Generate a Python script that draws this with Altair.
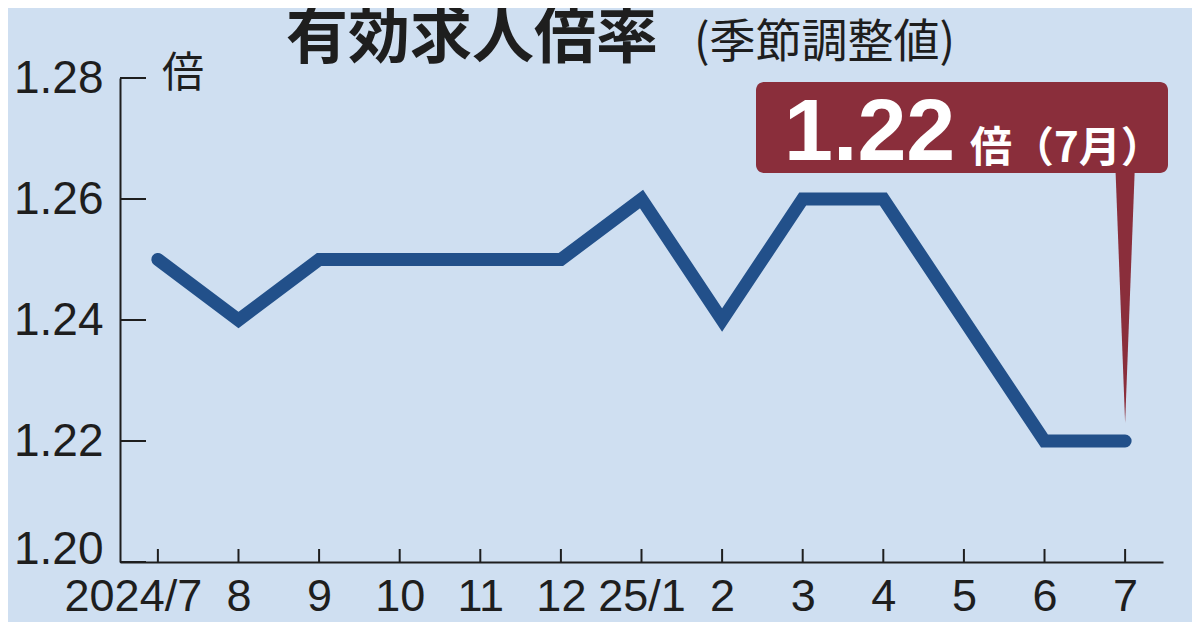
import json
import altair as alt
import pandas as pd

months = ["2024/7", "8", "9", "10", "11", "12", "25/1", "2", "3", "4", "5", "6", "7"]
values = [1.25, 1.24, 1.25, 1.25, 1.25, 1.25, 1.26, 1.24, 1.26, 1.26, 1.24, 1.22, 1.22]
y_ticks = [1.20, 1.22, 1.24, 1.26, 1.28]

title_main = "有効求人倍率"
title_sub = "(季節調整値)"
unit_label = "倍"
callout_value = "1.22"
callout_suffix = "倍（7月）"

BG = "#cfdff1"
LINE = "#22508a"
BOX = "#8a2e3b"
INK = "#1e1e1e"
NUM_FONT = "Liberation Sans Narrow, Liberation Sans, Arial, sans-serif"
JP_FONT = "Noto Sans CJK JP"

W, H = 1043, 484

idx = list(range(len(months)))
df = pd.DataFrame({"i": idx, "month": months, "value": values})
df_ticks = pd.DataFrame({"value": y_ticks})
df_last = df.iloc[[-1]]
one = pd.DataFrame({"k": [0]})

label_expr = json.dumps(months) + "[datum.value]"

xscale = alt.Scale(domain=[-0.47, len(months) - 1 + 0.47], nice=False, zero=False)
yscale = alt.Scale(domain=[1.20, 1.28], nice=False, zero=False)

xaxis = alt.Axis(
    title=None, ticks=False, grid=False, domain=True, labelAngle=0,
    values=idx, labelExpr=label_expr, labelFlush=False, labelOverlap=False,
    labelPadding=12, labelFontSize=45, labelFont=NUM_FONT, labelColor=INK,
    labelOffset={"condition": {"test": "datum.value === 0", "value": -25}, "value": 0},
)
yaxis = alt.Axis(
    title=None, ticks=False, grid=False, domain=True, values=y_ticks, format=".2f",
    labelPadding=17, labelFontSize=46, labelFont=NUM_FONT, labelColor=INK,
    labelFlush=False, labelOverlap=False,
    labelOffset={"condition": {"test": "datum.value < 1.205", "value": -13}, "value": 0},
)

X = alt.X("i:Q", scale=xscale, axis=xaxis)
Y = alt.Y("value:Q", scale=yscale, axis=yaxis)

line = alt.Chart(df).mark_line(
    color=LINE, strokeWidth=13, strokeCap="round", strokeJoin="miter"
).encode(x=X, y=Y)

ytick_marks = alt.Chart(df_ticks).mark_rule(color=INK, strokeWidth=2).encode(
    y=Y, x=alt.value(0), x2=alt.value(26)
)
xtick_marks = alt.Chart(df).mark_rule(color=INK, strokeWidth=2).encode(
    x=X, y=alt.value(H - 13), y2=alt.value(H)
)

box = alt.Chart(one).mark_rect(color=BOX, cornerRadius=8).encode(
    x=alt.value(636), x2=alt.value(1048), y=alt.value(4), y2=alt.value(95)
)
pointer = alt.Chart(df_last).mark_point(
    shape="M -0.076 -1 L 0.076 -1 L 0 1 Z", filled=True, color=BOX, opacity=1,
    size=62500, strokeWidth=0
).encode(x=X, y=alt.value(220))

t_main = alt.Chart(one).mark_text(
    font=JP_FONT, fontSize=62, fontWeight="bold", color=INK, align="left", baseline="middle"
).encode(x=alt.value(166), y=alt.value(-39), text=alt.value(title_main))
t_sub = alt.Chart(one).mark_text(
    font=JP_FONT, fontSize=46, color=INK, align="left", baseline="middle"
).encode(x=alt.value(574), y=alt.value(-35), text=alt.value(title_sub))
t_unit = alt.Chart(one).mark_text(
    font=JP_FONT, fontSize=42, color=INK, align="center", baseline="middle"
).encode(x=alt.value(63), y=alt.value(-4), text=alt.value(unit_label))
t_val = alt.Chart(one).mark_text(
    font="Liberation Sans, Arial, sans-serif", fontSize=88, fontWeight="bold", color="white",
    align="left", baseline="alphabetic"
).encode(x=alt.value(664), y=alt.value(82), text=alt.value(callout_value))
t_suf = alt.Chart(one).mark_text(
    font=JP_FONT, fontSize=42, fontWeight="bold", color="white",
    align="left", baseline="alphabetic"
).encode(x=alt.value(850), y=alt.value(84), text=alt.value(callout_suffix))

chart = alt.layer(
    ytick_marks, xtick_marks, line, pointer, box, t_main, t_sub, t_unit, t_val, t_suf
).properties(
    width=W, height=H,
    autosize=alt.AutoSizeParams(type="none"),
    padding={"left": 112, "top": 70, "right": 29, "bottom": 60},
    background=BG,
).configure_view(stroke=None).configure_axis(
    domainColor=INK, domainWidth=2
)

chart.save("out.html", embed_options={"renderer": "svg", "actions": False})
